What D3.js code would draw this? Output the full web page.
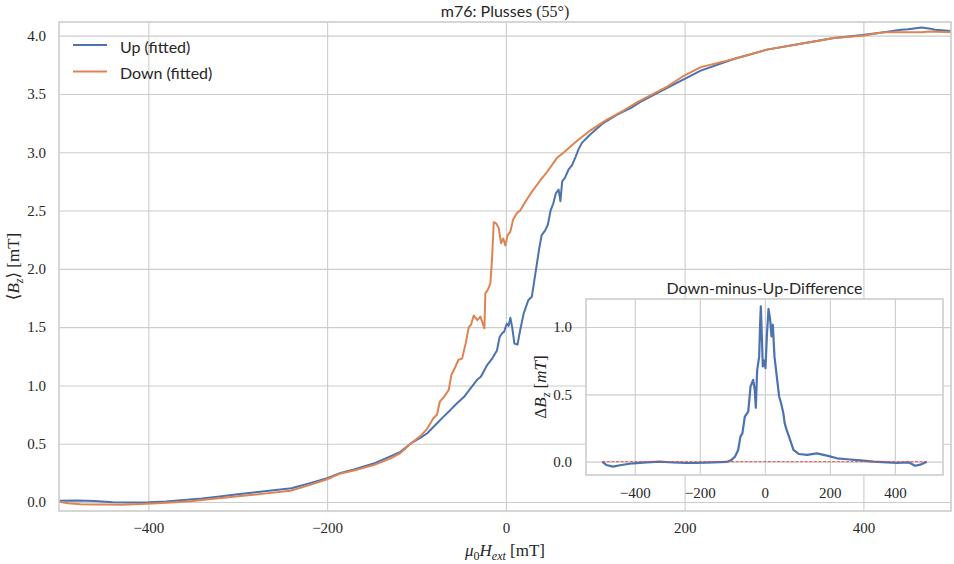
<!DOCTYPE html>
<html><head><meta charset="utf-8">
<script src="https://cdn.jsdelivr.net/npm/d3@7"></script>
<style>body{margin:0;background:#fff} svg{display:block}</style>
</head><body><svg id="c" width="954" height="564"></svg>
<script>
// ---- data ----
const upX = [-500,-480,-460,-440,-420,-400,-380,-360,-340,-320,-300,-280,-260,-240,-220,-200,-185,-170,-148,-130,-118,-105,-95,-88,-77,-70,-62,-55,-47,-40,-32,-28,-21,-15,-10,-7,-4,-2,1,3,5,7,9.5,13,16,20,25,29,33,37,40,44,47,50,53,56,59,61,63,66,70,74,78,81,85,94,109,124,140,150,180,200,218,255,292,330,367,399,423,442,450,465,475,480,498];
const upB = [0.010,0.012,0.008,-0.003,-0.004,-0.002,0.005,0.018,0.030,0.048,0.066,0.083,0.100,0.118,0.160,0.205,0.250,0.280,0.330,0.390,0.430,0.510,0.555,0.590,0.675,0.730,0.790,0.845,0.900,0.970,1.050,1.075,1.175,1.235,1.300,1.415,1.450,1.460,1.530,1.510,1.580,1.500,1.360,1.350,1.475,1.620,1.730,1.760,1.960,2.160,2.290,2.330,2.380,2.500,2.560,2.650,2.680,2.580,2.750,2.780,2.850,2.890,2.960,3.020,3.080,3.150,3.250,3.320,3.380,3.430,3.550,3.630,3.700,3.800,3.880,3.930,3.980,4.005,4.030,4.050,4.055,4.070,4.060,4.050,4.040];

const downX = [-500,-490,-476,-460,-446,-430,-408,-390,-370,-353,-330,-310,-297,-270,-241,-220,-200,-185,-170,-148,-130,-118,-105,-95,-88,-81,-77,-74,-69.5,-64,-61,-56.5,-53,-49,-45,-41.5,-39,-36,-32,-28.5,-25.5,-24,-23,-20.3,-17.3,-15.4,-13.6,-11,-8,-5.4,-3,-0.6,2,5,8,12.5,16,21.8,29,38.6,45,57,65,80,95,113,132,147,180,200,218,255,292,330,367,399,423,442,465,475,498];
const downB = [0.003,-0.010,-0.020,-0.022,-0.022,-0.024,-0.017,-0.010,-0.002,0.006,0.025,0.040,0.051,0.072,0.097,0.145,0.195,0.245,0.270,0.317,0.370,0.420,0.510,0.570,0.630,0.720,0.750,0.860,0.900,0.960,1.090,1.160,1.220,1.230,1.360,1.500,1.520,1.600,1.560,1.590,1.520,1.490,1.790,1.820,1.875,2.100,2.400,2.390,2.350,2.220,2.260,2.200,2.290,2.320,2.420,2.480,2.500,2.575,2.660,2.760,2.820,2.950,3.000,3.100,3.190,3.280,3.360,3.430,3.560,3.660,3.730,3.800,3.880,3.930,3.980,4.000,4.030,4.030,4.030,4.035,4.030];

const diffX = [-500,-487,-467,-441,-405,-364,-323,-282,-241,-210,-159,-118,-102.6,-92,-82,-75,-69,-61.5,-51,-44,-36,-31,-27.7,-23.6,-17.4,-14.4,-12.3,-9.2,-6.2,-2,2,6.2,11.3,16.4,20.5,24.6,29.7,38,44,50,57,61,67,76,88,104,130,160,191,222,253,294,335,376,406,442,462,478,498];
const diffB = [0.000,-0.025,-0.037,-0.025,-0.012,-0.005,0.000,-0.006,-0.010,-0.010,-0.005,-0.002,0.013,0.037,0.087,0.186,0.210,0.335,0.372,0.558,0.608,0.533,0.400,0.680,0.780,1.030,1.153,0.930,0.707,0.750,0.695,0.930,1.134,1.054,0.930,1.017,0.780,0.608,0.484,0.434,0.360,0.286,0.236,0.174,0.087,0.057,0.050,0.062,0.045,0.025,0.018,0.010,0.000,-0.005,-0.010,-0.005,-0.030,-0.022,0.000];

const xTicks = [-400,-200,0,200,400];
const yTicks = [0,0.5,1.0,1.5,2.0,2.5,3.0,3.5,4.0];
const insetYTicks = [0,0.5,1.0];
const seriesNames = ["Up (fitted)","Down (fitted)"];
const colors = ["#4c72b0","#dd8452"];

// ---- drawing ----
const svg = d3.select('#c');
const TXT = '#262626', GRID = '#cccccc';
const SANS = 'Lato, "Open Sans", sans-serif';
const SERIF = '"Liberation Serif", "DejaVu Serif", serif';
const M = {l:59, r:951, t:22, b:511};
const x = d3.scaleLinear().domain([-500,498]).range([M.l,M.r]);
const y = d3.scaleLinear().domain([-0.077,4.117]).range([M.b,M.t]);
const fmt = d3.format('.1f');

function styleAxis(g){
  g.select('.domain').remove();
  g.selectAll('.tick line').attr('stroke',GRID).attr('stroke-width',1.1);
  g.selectAll('.tick text').attr('fill',TXT).style('font-family',SERIF).style('font-size','15px');
}

svg.append('g').attr('transform',`translate(0,${M.b})`)
  .call(d3.axisBottom(x).tickValues(xTicks).tickSize(-(M.b-M.t)).tickPadding(11).tickFormat(d3.format('d')))
  .call(styleAxis);
svg.append('g').attr('transform',`translate(${M.l},0)`)
  .call(d3.axisLeft(y).tickValues(yTicks).tickSize(-(M.r-M.l)).tickPadding(13).tickFormat(fmt))
  .call(styleAxis);

svg.append('clipPath').attr('id','mainclip').append('rect')
  .attr('x',M.l).attr('y',M.t).attr('width',M.r-M.l).attr('height',M.b-M.t);

const line = d3.line().x(d=>x(d[0])).y(d=>y(d[1]));
const upData = upX.map((v,i)=>[v,upB[i]]);
const downData = downX.map((v,i)=>[v,downB[i]]);
const gCurves = svg.append('g').attr('clip-path','url(#mainclip)');
gCurves.append('path').datum(upData).attr('d',line).attr('fill','none')
  .attr('stroke',colors[0]).attr('stroke-width',2).attr('stroke-linejoin','round');
gCurves.append('path').datum(downData).attr('d',line).attr('fill','none')
  .attr('stroke',colors[1]).attr('stroke-width',2).attr('stroke-linejoin','round');

svg.append('rect').attr('x',M.l).attr('y',M.t).attr('width',M.r-M.l).attr('height',M.b-M.t)
  .attr('fill','none').attr('stroke',GRID).attr('stroke-width',1.6);

// title
const title = svg.append('text').attr('x',(M.l+M.r)/2).attr('y',17).attr('text-anchor','middle')
  .attr('fill',TXT).style('font-size','16px');
title.append('tspan').style('font-family',SANS).text('m76:  Plusses ');
title.append('tspan').style('font-family',SERIF).text('(55°)');

// legend
seriesNames.forEach((n,i)=>{
  const yy = 45 + i*26.5;
  svg.append('line').attr('x1',73).attr('x2',107).attr('y1',yy).attr('y2',yy)
    .attr('stroke',colors[i]).attr('stroke-width',2);
  svg.append('text').attr('x',120).attr('y',yy+1).attr('dominant-baseline','central')
    .attr('fill',TXT).style('font-family',SANS).style('font-size','16px').text(n);
});

// axis labels
const xl = svg.append('text').attr('x',(M.l+M.r)/2).attr('y',556).attr('text-anchor','middle')
  .attr('fill',TXT).style('font-family',SERIF).style('font-size','17px');
xl.append('tspan').style('font-style','italic').text('μ');
xl.append('tspan').attr('dy',4).style('font-size','12px').text('0');
xl.append('tspan').attr('dy',-4).style('font-style','italic').text('H');
xl.append('tspan').attr('dy',4).style('font-size','12px').style('font-style','italic').text('ext');
xl.append('tspan').attr('dy',-4).text(' [mT]');

const yl = svg.append('text').attr('transform',`translate(19,${(M.t+M.b)/2}) rotate(-90)`)
  .attr('text-anchor','middle').attr('fill',TXT).style('font-family',SERIF).style('font-size','17px');
yl.append('tspan').text('⟨');
yl.append('tspan').style('font-style','italic').text('B');
yl.append('tspan').attr('dy',4).style('font-size','12px').style('font-style','italic').text('z');
yl.append('tspan').attr('dy',-4).text('⟩ [mT]');

// ---- inset ----
const I = {l:586, r:943, t:299, b:475};
const ix = d3.scaleLinear().domain([-549.9,547.9]).range([I.l,I.r]);
const iy = d3.scaleLinear().domain([-0.099,1.208]).range([I.b,I.t]);
svg.append('rect').attr('x',I.l).attr('y',I.t).attr('width',I.r-I.l).attr('height',I.b-I.t).attr('fill','#fff');
svg.append('g').attr('transform',`translate(0,${I.b})`)
  .call(d3.axisBottom(ix).tickValues(xTicks).tickSize(-(I.b-I.t)).tickPadding(12).tickFormat(d3.format('d')))
  .call(styleAxis);
svg.append('g').attr('transform',`translate(${I.l},0)`)
  .call(d3.axisLeft(iy).tickValues(insetYTicks).tickSize(-(I.r-I.l)).tickPadding(14).tickFormat(fmt))
  .call(styleAxis);
svg.append('clipPath').attr('id','insclip').append('rect')
  .attr('x',I.l).attr('y',I.t).attr('width',I.r-I.l).attr('height',I.b-I.t);
const iline = d3.line().x(d=>ix(d[0])).y(d=>iy(d[1]));
const gi = svg.append('g').attr('clip-path','url(#insclip)');
gi.append('path').datum(diffX.map((v,i)=>[v,diffB[i]])).attr('d',iline).attr('fill','none')
  .attr('stroke',colors[0]).attr('stroke-width',2.2).attr('stroke-linejoin','round');
gi.append('path').datum([[diffX[0],0],[diffX[diffX.length-1],0]]).attr('d',iline).attr('fill','none')
  .attr('stroke','#e8453c').attr('stroke-width',0.9).attr('stroke-dasharray','3,1.6');
svg.append('rect').attr('x',I.l).attr('y',I.t).attr('width',I.r-I.l).attr('height',I.b-I.t)
  .attr('fill','none').attr('stroke',GRID).attr('stroke-width',1.6);

svg.append('text').attr('x',(I.l+I.r)/2).attr('y',294).attr('text-anchor','middle')
  .attr('fill',TXT).style('font-family',SANS).style('font-size','16px').text('Down-minus-Up-Difference');

const iyl = svg.append('text').attr('transform',`translate(546,${(I.t+I.b)/2}) rotate(-90)`)
  .attr('text-anchor','middle').attr('fill',TXT).style('font-family',SERIF).style('font-size','17px');
iyl.append('tspan').text('Δ');
iyl.append('tspan').style('font-style','italic').text('B');
iyl.append('tspan').attr('dy',4).style('font-size','12px').style('font-style','italic').text('z');
iyl.append('tspan').attr('dy',-4).text(' [');
iyl.append('tspan').style('font-style','italic').text('mT');
iyl.append('tspan').text(']');
</script></body></html>
